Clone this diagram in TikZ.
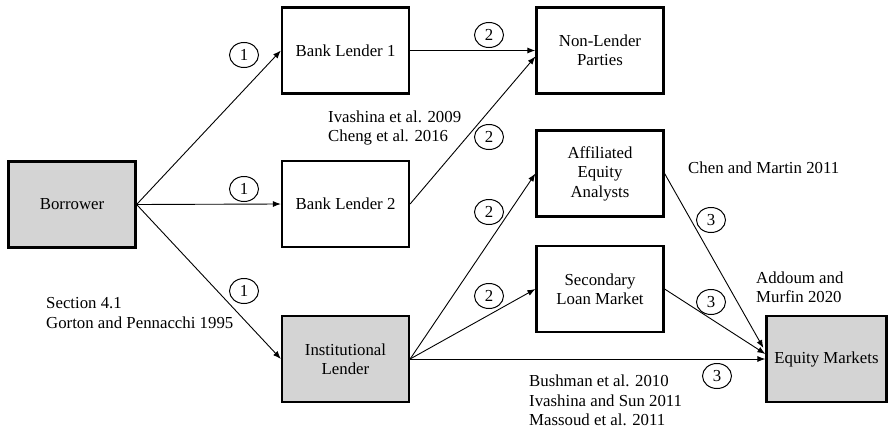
\documentclass[tikz,border=0pt]{standalone}
\usepackage{fontspec}
\setmainfont{Liberation Serif}
\usetikzlibrary{shapes.geometric,arrows.meta}
\begin{document}
\begin{tikzpicture}[x=1pt,y=-1pt,
  every node/.style={font=\fontsize{16.8}{19.5}\selectfont},
  box/.style={draw,line width=2.2pt,minimum width=127pt,minimum height=86pt,align=center,inner sep=0pt},
  graybox/.style={box,fill=black!17},
  num/.style={draw,ellipse,line width=1pt,minimum width=29pt,minimum height=25pt,inner sep=0pt,font=\fontsize{16.8}{17}\selectfont},
  cite/.style={align=left,anchor=west,inner sep=0pt},
  link/.style={line width=0.9pt,-{Latex[length=8pt,width=6pt]}}
]
\useasboundingbox (0,0) rectangle (889,431);
\node[graybox] (bor) at (72,204.5) {Borrower};
\node[box] (bl1) at (345.5,50.5) {Bank Lender 1};
\node[box] (nlp) at (600,50.5) {Non-Lender\\Parties};
\node[box] (bl2) at (345.5,204) {Bank Lender 2};
\node[box] (aea) at (600,173.5) {Affiliated\\Equity\\Analysts};
\node[box] (slm) at (600,289) {Secondary\\Loan Market};
\node[graybox] (il) at (345.5,359) {Institutional\\Lender};
\node[graybox,minimum width=120pt] (em) at (826.5,359) {Equity Markets};

\draw[link] (bor.east) -- (bl1.west);
\draw[link] (bor.east) -- (bl2.west);
\draw[link] (bor.east) -- (il.west);
\draw[link] (bl1.east) -- (nlp.west);
\draw[link] (bl2.east) -- ([yshift=-6pt]nlp.west);
\draw[link] (il.east) -- (aea.west);
\draw[link] (il.east) -- (slm.west);
\draw[link] (il.east) -- (em.west);
\draw[link] (aea.east) -- ([xshift=-2pt,yshift=11pt]em.west);
\draw[link] (slm.east) -- ([yshift=5pt]em.west);

\node[num] (n1a) at (244,55) {1};
\node[num] (n1b) at (244,189) {1};
\node[num] (n1c) at (244,291) {1};
\node[num] (n2a) at (489,35) {2};
\node[num] (n2b) at (489,137) {2};
\node[num] (n2c) at (489,212) {2};
\node[num] (n2d) at (489,296) {2};
\node[num] (n3a) at (711,220) {3};
\node[num] (n3b) at (711,302) {3};
\node[num] (n3c) at (717,376) {3};

\node[cite] (c1) at (46,313) {Section 4.1\\Gorton and Pennacchi 1995};
\node[cite] (c2) at (328,128) {Ivashina et al. 2009\\Cheng et al. 2016};
\node[cite] (c3) at (688,168) {Chen and Martin 2011};
\node[cite] (c4) at (756,287.5) {Addoum and\\Murfin 2020};
\node[cite] (c5) at (529,400.5) {Bushman et al. 2010\\Ivashina and Sun 2011\\Massoud et al. 2011};
\end{tikzpicture}
\end{document}
